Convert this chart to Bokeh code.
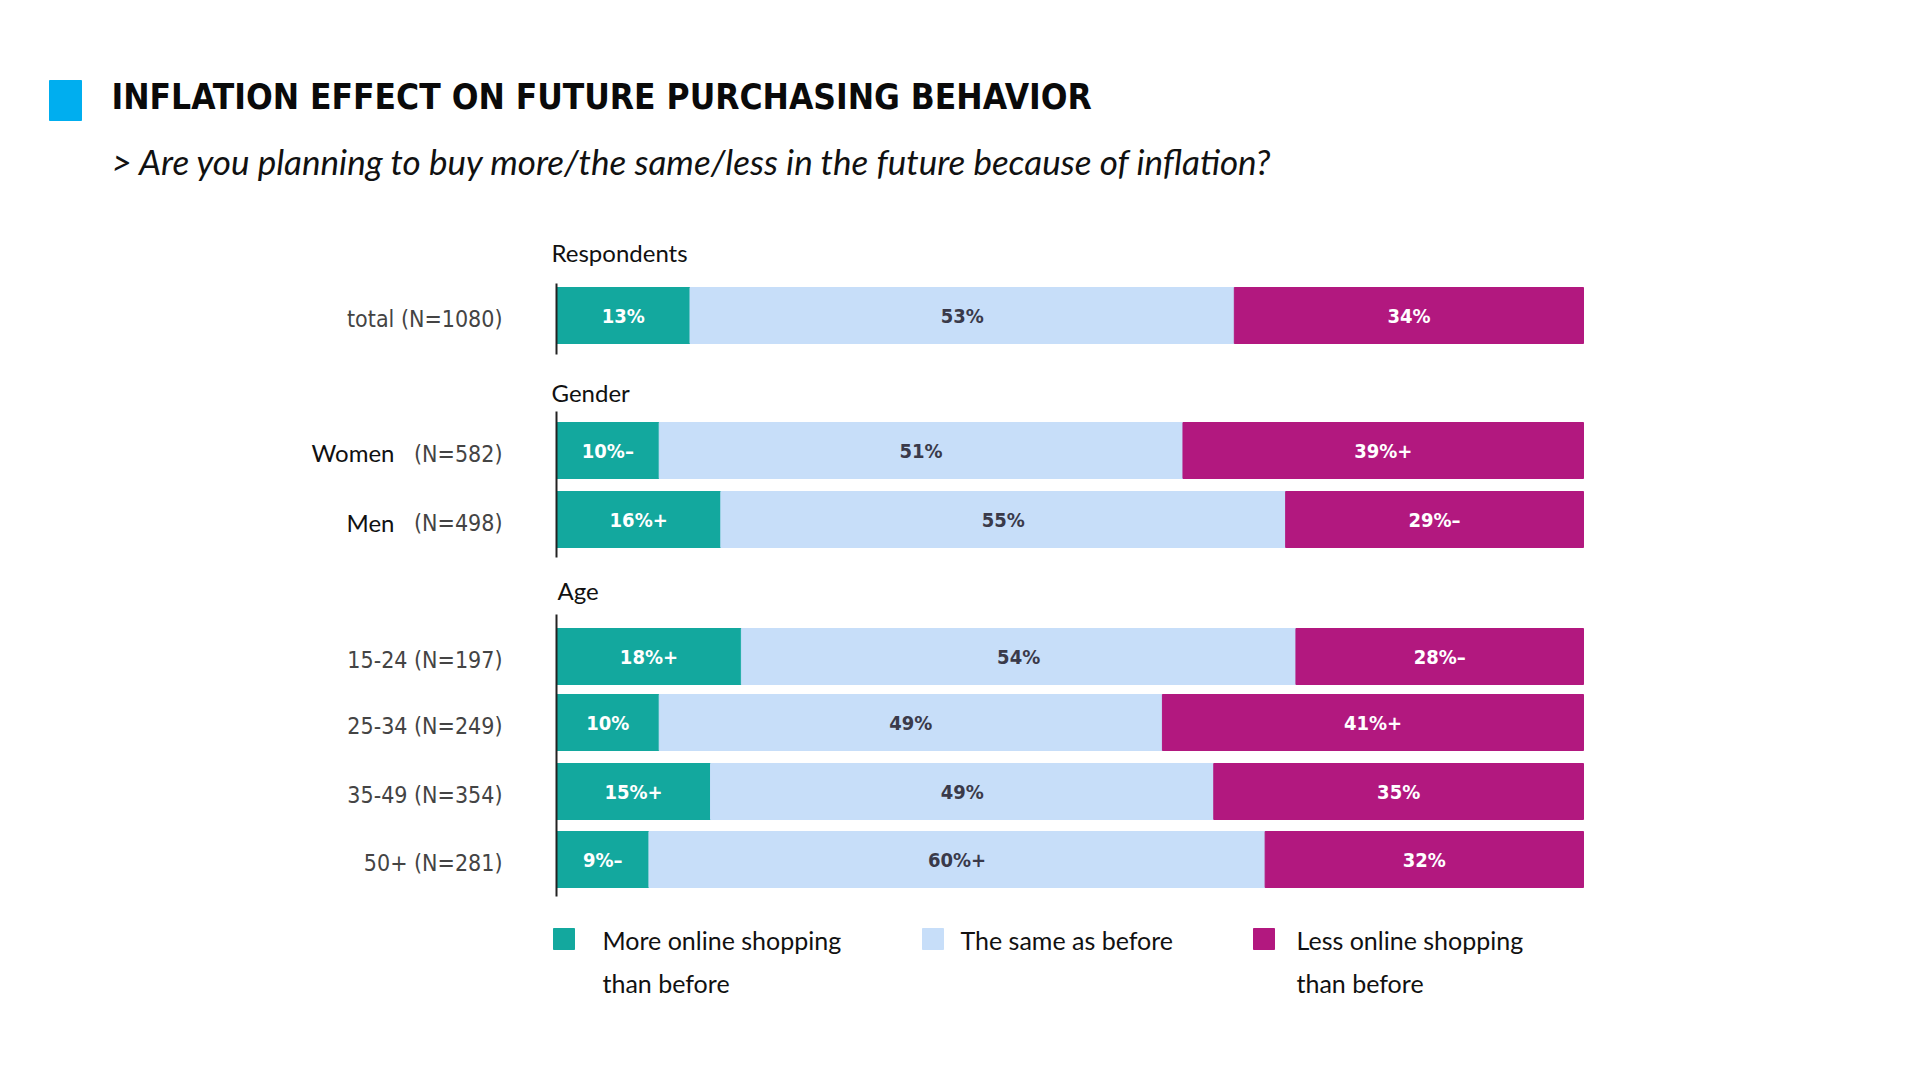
from bokeh.plotting import figure
from bokeh.models import Range1d, ColumnDataSource
from bokeh.core.properties import value
from bokeh.embed import file_html
from bokeh.resources import INLINE

groups = ["total (N=1080)", "(N=582)", "(N=498)", "15-24 (N=197)", "25-34 (N=249)", "35-49 (N=354)", "50+ (N=281)"]
more = [13, 10, 16, 18, 10, 15, 9]
same = [53, 51, 55, 54, 49, 49, 60]
less = [34, 39, 29, 28, 41, 36, 32]
more_lbl = ["13%", "10%–", "16%+", "18%+", "10%", "15%+", "9%–"]
same_lbl = ["53%", "51%", "55%", "54%", "49%", "49%", "60%+"]
less_lbl = ["34%", "39%+", "29%–", "28%–", "41%+", "35%", "32%"]
series = ["More online shopping\nthan before", "The same as before", "Less online shopping\nthan before"]
colors = ["#13A89E", "#C7DEF9", "#B2187F"]

W, H = 1904, 1064
row_y = [315, 450, 519, 656, 722, 791, 859]
x0, x100 = 556, 1583

p = figure(width=W, height=H, x_range=Range1d(0, W), y_range=Range1d(H, 0),
           output_backend="svg", toolbar_location=None, min_border=0)
p.axis.visible = False
p.grid.visible = False
p.outline_line_color = None
span = (x100 - x0) / 100
p.extra_x_ranges = {"pct": Range1d(-x0 / span, (W - x0) / span)}

src = ColumnDataSource(dict(y=row_y, m0=[0]*7, m1=more,
                            s0=list(more), s1=[m + s for m, s in zip(more, same)],
                            l1=[100]*7,
                            mc=[m/2 for m in more], sc=[m + s/2 for m, s in zip(more, same)],
                            lc=[m + s + (100-m-s)/2 for m, s in zip(more, same)],
                            ml=more_lbl, sl=same_lbl, ll=less_lbl))
bh = 56
p.hbar(y="y", left="m0", right="m1", height=bh, color=colors[0], source=src, x_range_name="pct")
p.hbar(y="y", left="s0", right="s1", height=bh, color=colors[1], source=src, x_range_name="pct")
p.hbar(y="y", left="s1", right="l1", height=bh, color=colors[2], source=src, x_range_name="pct")
fn = value("'DejaVu Sans Condensed', 'Roboto', sans-serif")
for xc, lab, col in (("mc", "ml", "white"), ("sc", "sl", "#3a3a4a"), ("lc", "ll", "white")):
    p.text(x=xc, y="y", text=lab, source=src, x_range_name="pct", text_color=col, text_font=fn,
           text_font_style="bold", text_font_size="20px", text_align="center", text_baseline="middle")

# row labels
p.text(x=[502]*7, y=[y + 3 for y in row_y], text=groups, text_color="#444444", text_font=fn,
       text_font_size="23px", text_align="right", text_baseline="middle")
p.text(x=[394, 394], y=[452, 522], text=["Women", "Men"], text_color="#111111", text_font=value("Lato"),
       text_font_size="24px", text_align="right", text_baseline="middle")

# axis lines
p.segment(x0=[556]*3, y0=[283, 411, 614], x1=[556]*3, y1=[354, 557, 896], line_color="#222222", line_width=2)

# group headers
p.text(x=[551, 551, 557], y=[252, 392, 590], text=["Respondents", "Gender", "Age"], text_color="#111111",
       text_font=value("Lato"), text_font_size="24px", text_baseline="middle")

# title
p.quad(left=[49], right=[81], top=[80], bottom=[120], color="#00AEEF")
p.text(x=[111], y=[96], text=["INFLATION EFFECT ON FUTURE PURCHASING BEHAVIOR"], text_color="#0a0a0a",
       text_font=fn, text_font_style="bold", text_font_size="35px", text_baseline="middle")
p.text(x=[111], y=[160], text=["> Are you planning to buy more/the same/less in the future because of inflation?"],
       text_color="#111111", text_font=value("Lato"), text_font_style="italic", text_font_size="35px",
       text_baseline="middle")

# legend
lx = [553, 922, 1253]
tx = [602, 960, 1296]
p.quad(left=lx, right=[x + 21 for x in lx], top=[928]*3, bottom=[949]*3, color=colors)
p.text(x=tx, y=[924]*3, text=series, text_color="#111111", text_font=value("Lato"), text_font_size="25px",
       text_baseline="top", text_line_height=1.45)

open("out.html", "w").write(file_html(p, INLINE))
